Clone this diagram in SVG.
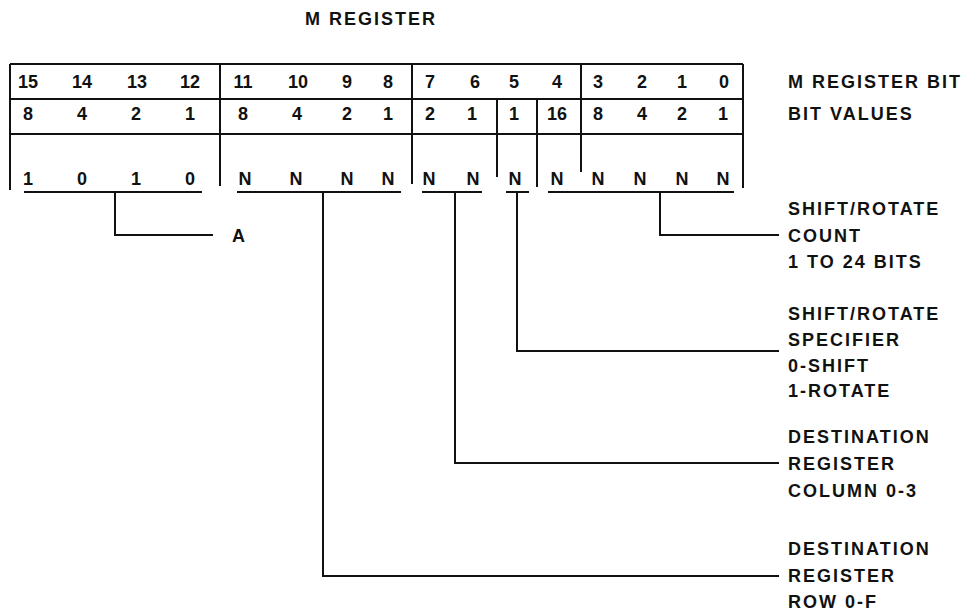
<svg xmlns="http://www.w3.org/2000/svg" width="965" height="612" viewBox="0 0 965 612">
<style>
text{font-family:"Liberation Sans",Arial,sans-serif;font-weight:bold;font-size:18px;fill:#111}
.n{text-anchor:middle}
.l{letter-spacing:2px}
.ln{stroke:#111;stroke-width:2;fill:none}
</style>
<rect width="965" height="612" fill="#fff"/>
<text id="title" x="305" y="25" class="l">M REGISTER</text>
<g id="register">
<path class="ln" d="M10,64H743M10,99H743M10,134H743M10,64V190M743,64V188M220,64V186M412,64V184M581,64V172M497,99V177M537,99V187"/>
<g id="row-bits">
<text class="n" x="28" y="88">15</text><text class="n" x="82" y="88">14</text><text class="n" x="137" y="88">13</text><text class="n" x="190" y="88">12</text>
<text class="n" x="243" y="88">11</text><text class="n" x="298" y="88">10</text><text class="n" x="347" y="88">9</text><text class="n" x="388" y="88">8</text>
<text class="n" x="430" y="88">7</text><text class="n" x="475" y="88">6</text><text class="n" x="514" y="88">5</text><text class="n" x="557" y="88">4</text>
<text class="n" x="598" y="88">3</text><text class="n" x="642" y="88">2</text><text class="n" x="682" y="88">1</text><text class="n" x="724" y="88">0</text>
</g>
<g id="row-values">
<text class="n" x="28" y="120">8</text><text class="n" x="82" y="120">4</text><text class="n" x="136" y="120">2</text><text class="n" x="190" y="120">1</text>
<text class="n" x="243" y="120">8</text><text class="n" x="297" y="120">4</text><text class="n" x="347" y="120">2</text><text class="n" x="388" y="120">1</text>
<text class="n" x="430" y="120">2</text><text class="n" x="472" y="120">1</text><text class="n" x="514" y="120">1</text><text class="n" x="557" y="120">16</text>
<text class="n" x="598" y="120">8</text><text class="n" x="642" y="120">4</text><text class="n" x="682" y="120">2</text><text class="n" x="723" y="120">1</text>
</g>
<g id="row-field">
<text class="n" x="28" y="185">1</text><text class="n" x="82" y="185">0</text><text class="n" x="136" y="185">1</text><text class="n" x="190" y="185">0</text>
<text class="n" x="245" y="185">N</text><text class="n" x="296" y="185">N</text><text class="n" x="347" y="185">N</text><text class="n" x="388" y="185">N</text>
<text class="n" x="429" y="185">N</text><text class="n" x="473" y="185">N</text><text class="n" x="515" y="185">N</text><text class="n" x="557" y="185">N</text>
<text class="n" x="598" y="185">N</text><text class="n" x="640" y="185">N</text><text class="n" x="682" y="185">N</text><text class="n" x="723" y="185">N</text>
</g>
<text class="l" x="788" y="88">M REGISTER BIT</text>
<text class="l" x="788" y="120">BIT VALUES</text>
</g>
<g id="connectors">
<path class="ln" d="M24,192H202M237,192H401M422,192H482M506,192H529M548,192H734"/>
<path class="ln" d="M115,192V235H213"/>
<path class="ln" d="M660,192V235H779"/>
<path class="ln" d="M517,192V351H779"/>
<path class="ln" d="M455,192V463H779"/>
<path class="ln" d="M323,192V576H779"/>
</g>
<g id="label-a"><text x="232" y="242">A</text></g>
<g id="label-count">
<text class="l" x="788" y="215">SHIFT/ROTATE</text>
<text class="l" x="788" y="242">COUNT</text>
<text class="l" x="788" y="268">1 TO 24 BITS</text>
</g>
<g id="label-specifier">
<text class="l" x="788" y="320">SHIFT/ROTATE</text>
<text class="l" x="788" y="346">SPECIFIER</text>
<text class="l" x="788" y="372">0-SHIFT</text>
<text class="l" x="788" y="397">1-ROTATE</text>
</g>
<g id="label-column">
<text class="l" x="788" y="443">DESTINATION</text>
<text class="l" x="788" y="470">REGISTER</text>
<text class="l" x="788" y="497">COLUMN 0-3</text>
</g>
<g id="label-row">
<text class="l" x="788" y="555">DESTINATION</text>
<text class="l" x="788" y="582">REGISTER</text>
<text class="l" x="788" y="608">ROW 0-F</text>
</g>
</svg>
